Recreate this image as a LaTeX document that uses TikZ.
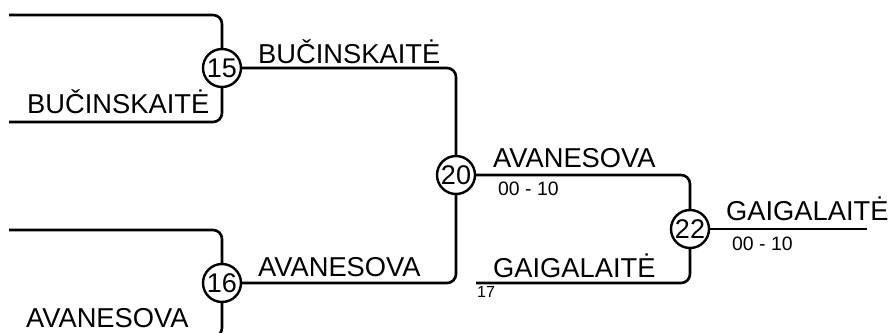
\documentclass[tikz,border=0pt]{standalone}
\usepackage{fontspec}
\setmainfont{Liberation Sans}
\begin{document}
\begin{tikzpicture}[x=1pt,y=-1pt,
    wire/.style={line width=2.6pt,rounded corners=9pt},
    seed/.style={circle,draw,line width=2.4pt,fill=white,minimum size=38pt,inner sep=0pt,font=\fontsize{27}{27}\selectfont},
    player/.style={anchor=base west,inner sep=0pt,font=\fontsize{27.3}{27}\selectfont},
    score/.style={anchor=base west,inner sep=0pt,font=\fontsize{19.4}{19}\selectfont}]
  \clip (0,0) rectangle (888,332);
  % match circles
  \node[seed] (c15) at (222,68) {15};
  \node[seed] (c16) at (222,283) {16};
  \node[seed] (c20) at (456,175) {20};
  \node[seed] (c22) at (690,229) {22};
  % free ends
  \coordinate (a1) at (9,15);
  \coordinate (a2) at (9,122);
  \coordinate (b1) at (9,230);
  \coordinate (b2) at (9,337);
  \coordinate (g1) at (476,283);
  \coordinate (w) at (867,229);
  \draw[wire] (a1) -| (c15);
  \draw[wire] (a2) -| (c15);
  \draw[wire] (b1) -| (c16);
  \draw[wire] (b2) -| (c16);
  \draw[wire] (c15) -| (c20);
  \draw[wire] (c16) -| (c20);
  \draw[wire] (c20) -| (c22);
  \draw[wire] (g1) -| (c22);
  \draw[wire] (c22) -- (w);
  % names
  \node[player] (n1) at (27,113) {BUČINSKAITĖ};
  \node[player] (n2) at (258,63) {BUČINSKAITĖ};
  \node[player] (n3) at (26,327) {AVANESOVA};
  \node[player] (n4) at (258,276) {AVANESOVA};
  \node[player] (n5) at (493,167) {AVANESOVA};
  \node[player] (n6) at (493,277) {GAIGALAITĖ};
  \node[player] (n7) at (726,220) {GAIGALAITĖ};
  % scores
  \node[score] (s1) at (498,195) {00 - 10};
  \node[score] (s2) at (732,250) {00 - 10};
  \node[score,font=\fontsize{16}{16}\selectfont] (s3) at (477,297) {17};
\end{tikzpicture}
\end{document}
